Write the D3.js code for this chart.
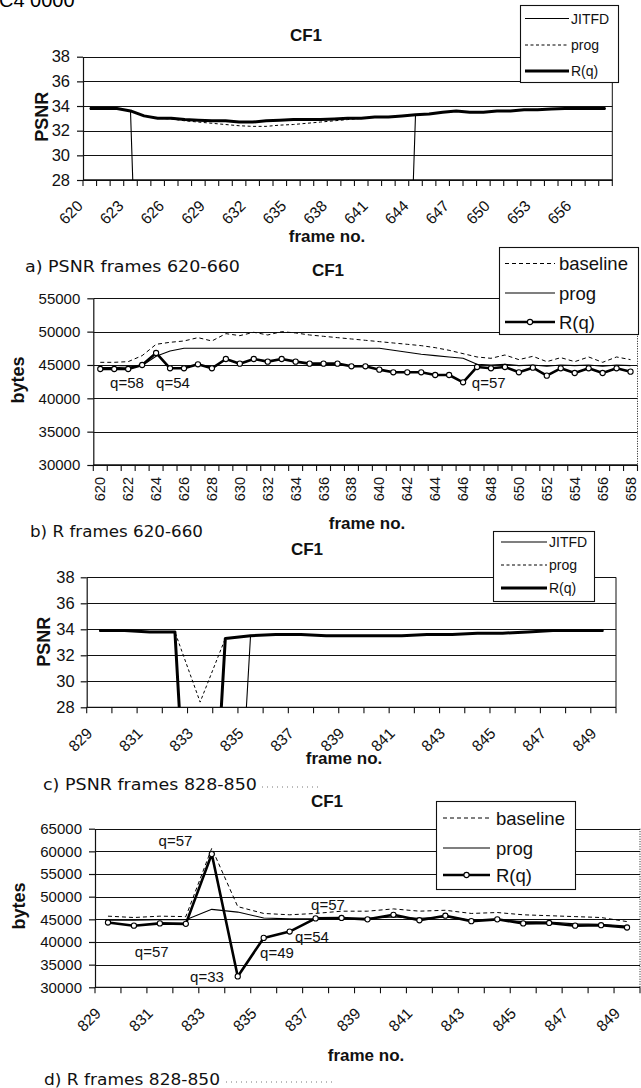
<!DOCTYPE html>
<html><head><meta charset="utf-8">
<script src="https://cdn.jsdelivr.net/npm/d3@7"></script>
<style>body{margin:0;background:#fff}svg{display:block}</style>
</head><body>
<script>
// ---------- DATA ----------
const framesAB = ["620","621","622","623","624","625","626","627","628","629","630","631","632","633","634","635","636","637","638","639","640","641","642","643","644","645","646","647","648","649","650","651","652","653","654","655","656","657","658"];
const framesCD = ["829","830","831","832","833","834","835","836","837","838","839","840","841","842","843","844","845","846","847","848","849"];

const labelsA = ["620","623","626","629","632","635","638","641","644","647","650","653","656"];
const labelsB = ["620","622","624","626","628","630","632","634","636","638","640","642","644","646","648","650","652","654","656","658"];
const labelsCD = ["829","831","833","835","837","839","841","843","845","847","849"];

const psnrTicks = [28,30,32,34,36,38];
const bytesTicksB = [30000,35000,40000,45000,50000,55000];
const bytesTicksD = [30000,35000,40000,45000,50000,55000,60000,65000];

// a) PSNR frames 620-660
const jitfdA = [33.8,33.8,33.8,33.6,0,0,0,0,0,0,0,0,0,0,0,0,0,0,0,0,0,0,0,0,33.3,33.35,33.5,33.6,33.5,33.5,33.6,33.6,33.7,33.7,33.75,33.8,33.8,33.8,33.8];
const progA  = [33.8,33.8,33.8,33.6,33.2,33.0,32.95,32.8,32.7,32.6,32.5,32.4,32.35,32.35,32.45,32.5,32.6,32.7,32.8,32.9,33.0,33.1,33.1,33.2,33.3,33.35,33.5,33.6,33.5,33.5,33.6,33.6,33.7,33.7,33.75,33.8,33.8,33.8,33.8];
const rqA    = [33.8,33.8,33.8,33.6,33.2,33.0,33.0,32.9,32.85,32.8,32.8,32.7,32.7,32.8,32.85,32.9,32.9,32.9,32.95,33.0,33.0,33.1,33.1,33.2,33.3,33.35,33.5,33.6,33.5,33.5,33.6,33.6,33.7,33.7,33.75,33.8,33.8,33.8,33.8];

// b) R frames 620-660
const baselineB = [45400,45400,45500,46400,48100,48400,48600,49100,48600,49700,49400,49900,49500,50000,49800,49500,49300,49100,48900,48700,48500,48300,48100,47900,47600,47200,46700,46200,46000,46500,45800,46300,45500,46100,45500,46200,45400,46200,45800];
const progB     = [44600,44600,44700,44900,46300,47100,47500,47500,47500,47500,47500,47500,47500,47500,47500,47500,47500,47500,47500,47500,47500,47200,46900,46600,46400,46200,46000,45100,45000,45100,44900,45000,44800,45000,44900,45000,44800,45000,44900];
const rqB       = [44400,44400,44400,45000,46800,44500,44500,45100,44500,45900,45200,45900,45500,45900,45500,45200,45200,45200,44800,44800,44300,43900,43900,43900,43500,43500,42400,44700,44500,44700,43900,44600,43400,44500,43800,44500,43800,44500,44000];
const notesBText = ["q=58","q=54","q=57"];

// c) PSNR frames 828-850
const jitfdC = [33.9,33.9,33.8,33.8,0,0,33.5,33.6,33.6,33.5,33.5,33.5,33.5,33.6,33.6,33.7,33.7,33.8,33.9,33.9,33.9];
const progC  = [33.9,33.9,33.8,33.8,28.4,33.3,33.5,33.6,33.6,33.5,33.5,33.5,33.5,33.6,33.6,33.7,33.7,33.8,33.9,33.9,33.9];
const rqC    = [33.9,33.9,33.8,33.8,0,33.3,33.5,33.6,33.6,33.5,33.5,33.5,33.5,33.6,33.6,33.7,33.7,33.8,33.9,33.9,33.9];

// d) R frames 828-850
const baselineD = [45700,45400,45700,45600,60700,47800,46300,46000,46300,46800,46800,47300,46800,47000,46300,46500,46000,45800,45600,45400,44500];
const progD     = [44800,44800,44900,44900,47200,46600,45300,45100,45100,45200,45200,45500,45200,45500,44800,44900,44500,44400,44000,43900,43500];
const rqD       = [44300,43600,44100,44000,59400,32400,40900,42300,45200,45300,45000,46000,44800,45800,44600,45000,44100,44200,43600,43700,43200];
const notesDText = ["q=57","q=57","q=33","q=49","q=54","q=57"];

// ---------- DRAWING ----------
const W = 641, H = 1088;
const FONT = "'Liberation Sans', Arial, sans-serif";
const CAPFONT = "'DejaVu Sans', Verdana, sans-serif";
const svg = d3.select("body").append("svg").attr("width", W).attr("height", H);

// header text cut at the top of the scan
svg.append("text").attr("x", -1).attr("y", 7).attr("font-family", FONT).attr("font-size", 20)
  .attr("fill", "#000").text("C4  0000");

let clipId = 0;
function panel(o) {
  const g = svg.append("g");
  const x = d3.scaleBand().domain(o.cats).range([o.x0, o.x1]);
  const bw = x.bandwidth();
  const y = d3.scaleLinear().domain(o.yDomain).range([o.yBottom, o.yTop]);

  g.selectAll("line.grid").data(o.yTicks).join("line")
    .attr("x1", o.x0).attr("x2", o.x1)
    .attr("y1", d => Math.round(y(d)) + 0.5).attr("y2", d => Math.round(y(d)) + 0.5)
    .attr("stroke", "#111").attr("stroke-width", 1.1);
  g.append("line").attr("x1", o.x1).attr("x2", o.x1).attr("y1", o.yTop).attr("y2", o.yBottom)
    .attr("stroke", "#111").attr("stroke-width", 1)
    .attr("stroke-dasharray", o.dottedRight ? "1,1.5" : null);

  const ya = g.append("g").attr("transform", `translate(${o.x0},0)`)
    .call(d3.axisLeft(y).tickValues(o.yTicks).tickFormat(d3.format("d"))
      .tickSize(6).tickSizeOuter(0).tickPadding(o.yPad));
  ya.selectAll("path,line").attr("stroke", "#111").attr("stroke-width", 1.2);
  ya.selectAll("text").attr("font-family", FONT).attr("font-size", o.yFont).attr("fill", "#111");

  g.append("line").attr("x1", o.x0).attr("x2", o.x1).attr("y1", o.yBottom).attr("y2", o.yBottom)
    .attr("stroke", "#111").attr("stroke-width", 1.3);
  const bounds = o.cats.map(c => x(c)).concat([o.x1]);
  g.selectAll("line.xt").data(bounds).join("line")
    .attr("x1", d => d).attr("x2", d => d).attr("y1", o.yBottom).attr("y2", o.yBottom + 6)
    .attr("stroke", "#111").attr("stroke-width", 1.1);

  g.selectAll("text.xl").data(o.labels).join("text")
    .attr("font-family", FONT).attr("font-size", o.xFont).attr("fill", "#111")
    .attr("text-anchor", "end")
    .attr("transform", d => {
      const cx = x(d) + bw / 2;
      return o.vertical
        ? `translate(${cx + 5},${o.yBottom + 12}) rotate(-90)`
        : `translate(${cx - 6},${o.yBottom + 27}) rotate(-45)`;
    })
    .text(d => d);

  const cid = "clip" + (clipId++);
  svg.append("clipPath").attr("id", cid).append("rect")
    .attr("x", o.x0).attr("y", o.yTop - 10).attr("width", o.x1 - o.x0).attr("height", o.yBottom - o.yTop + 10);
  const sg = g.append("g").attr("clip-path", `url(#${cid})`);
  o.series.forEach(s => {
    const line = d3.line().x((d, i) => x(o.cats[i]) + bw / 2).y(d => y(d));
    sg.append("path").datum(s.values).attr("d", line).attr("fill", "none")
      .attr("stroke", "#000").attr("stroke-width", s.w).attr("stroke-dasharray", s.dash || null)
      .attr("stroke-linejoin", "round");
    if (s.marker) {
      sg.selectAll(null).data(s.values).join("circle")
        .attr("cx", (d, i) => x(o.cats[i]) + bw / 2).attr("cy", d => y(d)).attr("r", 2.6)
        .attr("fill", "#fff").attr("stroke", "#000").attr("stroke-width", 1.1);
    }
  });

  (o.notes || []).forEach(n => {
    g.append("text").attr("x", n.x).attr("y", n.y).attr("dy", "0.36em")
      .attr("text-anchor", "middle").attr("font-family", FONT).attr("font-size", 15).attr("fill", "#111")
      .text(n.t);
  });

  g.append("text").attr("x", o.title[0]).attr("y", o.title[1]).attr("dy", "0.36em")
    .attr("text-anchor", "middle").attr("font-family", FONT).attr("font-weight", "bold")
    .attr("font-size", 17).attr("fill", "#111").text("CF1");
  g.append("text").attr("transform", `translate(${o.yLabel[0]},${o.yLabel[1]}) rotate(-90)`)
    .attr("dy", "0.36em").attr("text-anchor", "middle").attr("font-family", FONT)
    .attr("font-weight", "bold").attr("font-size", 18).attr("fill", "#111").text(o.yName);
  g.append("text").attr("x", o.frameLbl[0]).attr("y", o.frameLbl[1]).attr("dy", "0.33em")
    .attr("text-anchor", "middle").attr("font-family", FONT).attr("font-weight", "bold")
    .attr("font-size", 17).attr("fill", "#111").text("frame no.");

  const L = o.legend;
  g.append("rect").attr("x", L.box[0] + 0.5).attr("y", L.box[1] + 0.5).attr("width", L.box[2]).attr("height", L.box[3])
    .attr("fill", "#fff").attr("stroke", "#111").attr("stroke-width", 1.1);
  L.items.forEach((it, k) => {
    const yy = L.ys[k];
    g.append("line").attr("x1", L.line[0]).attr("x2", L.line[1]).attr("y1", yy).attr("y2", yy)
      .attr("stroke", "#000").attr("stroke-width", it.w).attr("stroke-dasharray", it.dash || null);
    if (it.marker) {
      g.append("circle").attr("cx", (L.line[0] + L.line[1]) / 2).attr("cy", yy).attr("r", 2.6)
        .attr("fill", "#fff").attr("stroke", "#000").attr("stroke-width", 1.1);
    }
    g.append("text").attr("x", L.text).attr("y", yy).attr("dy", "0.36em")
      .attr("font-family", FONT).attr("font-size", L.font).attr("fill", "#111").text(it.name);
  });
}

function caption(t, x, y, len, dots) {
  svg.append("text").attr("x", x).attr("y", y).attr("font-family", CAPFONT).attr("font-size", 15.5)
    .attr("fill", "#111").attr("textLength", len).attr("lengthAdjust", "spacingAndGlyphs").text(t);
  if (dots) {
    svg.append("line").attr("x1", dots[0]).attr("x2", dots[1]).attr("y1", y - 3).attr("y2", y - 3)
      .attr("stroke", "#777").attr("stroke-width", 1).attr("stroke-dasharray", "1,4");
  }
}

// Panel a
panel({
  cats: framesAB, labels: labelsA, x0: 83, x1: 612.3, yTop: 56.7, yBottom: 180,
  yDomain: [28, 38], yTicks: psnrTicks, yFont: 16.5, yPad: 7, xFont: 15.5,
  series: [
    {values: progA, w: 1, dash: "3,2.5"},
    {values: jitfdA, w: 1.1},
    {values: rqA, w: 3}
  ],
  title: [306, 35], yLabel: [41.7, 116.7], yName: "PSNR", frameLbl: [327, 236],
  legend: {box: [520, 5, 98, 77], ys: [18.5, 45, 71], line: [525, 569], text: 571, font: 14,
    items: [{name: "JITFD", w: 1.1}, {name: "prog", w: 1, dash: "3,2.5"}, {name: "R(q)", w: 3}]}
});

// Panel b
panel({
  cats: framesAB, labels: labelsB, x0: 93.3, x1: 637.5, yTop: 298.3, yBottom: 465,
  yDomain: [30000, 55000], yTicks: bytesTicksB, yFont: 15, yPad: 7, xFont: 14.5, vertical: true,
  dottedRight: true,
  series: [
    {values: baselineB, w: 1, dash: "4,3"},
    {values: progB, w: 1.1},
    {values: rqB, w: 2.6, marker: true}
  ],
  notes: [{t: notesBText[0], x: 127, y: 383}, {t: notesBText[1], x: 173, y: 383}, {t: notesBText[2], x: 488.7, y: 382.3}],
  title: [328, 270], yLabel: [18, 380], yName: "bytes", frameLbl: [367, 523],
  legend: {box: [499, 247, 139, 87], ys: [263.5, 293, 322], line: [505, 555], text: 559, font: 18.5,
    items: [{name: "baseline", w: 1, dash: "4,3"}, {name: "prog", w: 1.1}, {name: "R(q)", w: 2.6, marker: true}]}
});

// Panel c
panel({
  cats: framesCD, labels: labelsCD, x0: 86.7, x1: 616, yTop: 577.3, yBottom: 707.3,
  yDomain: [28, 38], yTicks: psnrTicks, yFont: 16.5, yPad: 6, xFont: 15.5,
  series: [
    {values: progC, w: 1, dash: "3,2.5"},
    {values: jitfdC, w: 1.1},
    {values: rqC, w: 3}
  ],
  title: [307, 549], yLabel: [44, 641.7], yName: "PSNR", frameLbl: [344, 758],
  legend: {box: [493, 531, 101, 70], ys: [542, 565, 588], line: [501, 547], text: 549, font: 14,
    items: [{name: "JITFD", w: 1.1}, {name: "prog", w: 1, dash: "3,2.5"}, {name: "R(q)", w: 3}]}
});

// Panel d
panel({
  cats: framesCD, labels: labelsCD, x0: 95, x1: 640, yTop: 828.7, yBottom: 987.3,
  yDomain: [30000, 65000], yTicks: bytesTicksD, yFont: 15, yPad: 7, xFont: 15.5,
  dottedRight: true,
  series: [
    {values: baselineD, w: 1, dash: "4,3"},
    {values: progD, w: 1.1},
    {values: rqD, w: 2.6, marker: true}
  ],
  notes: [{t: notesDText[0], x: 175.5, y: 840.7}, {t: notesDText[1], x: 151.7, y: 952}, {t: notesDText[2], x: 207, y: 976.3},
          {t: notesDText[3], x: 277, y: 953}, {t: notesDText[4], x: 312, y: 937}, {t: notesDText[5], x: 328, y: 904.7}],
  title: [327, 801], yLabel: [18.5, 906], yName: "bytes", frameLbl: [366, 1055],
  legend: {box: [436, 801, 139, 88], ys: [818, 848, 875], line: [443, 490], text: 496, font: 18.5,
    items: [{name: "baseline", w: 1, dash: "4,3"}, {name: "prog", w: 1.1}, {name: "R(q)", w: 2.6, marker: true}]}
});

caption("a) PSNR frames 620-660", 25, 272, 215);
caption("b) R frames 620-660", 30, 537, 173);
caption("c) PSNR frames 828-850", 43, 790, 214, [262, 318]);
caption("d) R frames 828-850", 44, 1085, 176, [226, 335]);
</script>
</body></html>
